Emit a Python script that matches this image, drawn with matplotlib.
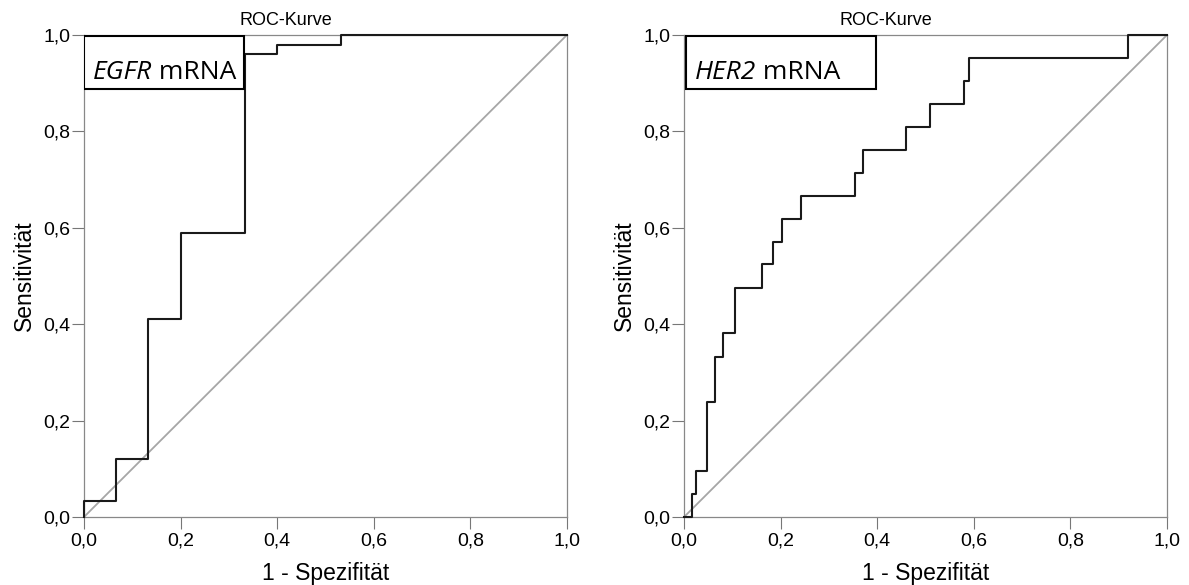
import matplotlib.pyplot as plt

# ROC corner points (steps-post)
egfr_fpr = [0.0, 0.0, 0.067, 0.133, 0.2, 0.333, 0.4, 0.533, 1.0]
egfr_tpr = [0.0, 0.033, 0.12, 0.41, 0.59, 0.96, 0.98, 1.0, 1.0]

her2_fpr = [0.0, 0.016, 0.024, 0.048, 0.064, 0.081, 0.105, 0.161, 0.185, 0.202,
            0.242, 0.355, 0.371, 0.46, 0.509, 0.58, 0.589, 0.92, 1.0]
her2_tpr = [0.0, 0.048, 0.095, 0.238, 0.333, 0.381, 0.476, 0.524, 0.571, 0.619,
            0.667, 0.714, 0.762, 0.810, 0.857, 0.905, 0.952, 1.0, 1.0]

ticks = [0.0, 0.2, 0.4, 0.6, 0.8, 1.0]
tick_labels = ['0,0', '0,2', '0,4', '0,6', '0,8', '1,0']

plt.rcParams['font.family'] = ['Liberation Sans', 'DejaVu Sans']

fig = plt.figure(figsize=(11.89, 5.85), dpi=100)
ax1 = fig.add_axes([0.0706, 0.1162, 0.4062, 0.824])
ax2 = fig.add_axes([0.5753, 0.1162, 0.4062, 0.824])

# axes, data, gene name, box left/width, text left (axes coords)
panels = [(ax1, egfr_fpr, egfr_tpr, 'EGFR', 0.0, 0.331, 0.0186),
          (ax2, her2_fpr, her2_tpr, 'HER2', 0.004, 0.393, 0.0228)]

for ax, fpr, tpr, gene, box_x, box_w, txt_x in panels:
    ax.plot([0, 1], [0, 1], color='#a6a6a6', linewidth=1.3)
    ax.plot(fpr, tpr, color='#1a1a1a', linewidth=1.5, drawstyle='steps-post',
            clip_on=False, zorder=4)
    ax.set_xlim(0, 1)
    ax.set_ylim(0, 1)
    ax.set_xticks(ticks)
    ax.set_xticklabels(tick_labels)
    ax.set_yticks(ticks)
    ax.set_yticklabels(tick_labels)
    ax.tick_params(axis='both', direction='out', length=8.5, width=0.8,
                   color='#777777', labelsize=14)
    ax.tick_params(axis='x', pad=3)
    ax.tick_params(axis='y', pad=1.5)
    for s in ax.spines.values():
        s.set_color('#888888')
        s.set_linewidth(0.9)
    ax.set_title('ROC-Kurve', fontsize=13, pad=7, x=0.418)
    ax.set_xlabel('1 - Spezifität', fontsize=16.5, labelpad=9)
    ax.set_ylabel('Sensitivität', fontsize=16.5, labelpad=5)

    # label box in the top-left corner
    rect = plt.Rectangle((box_x, 0.888), box_w, 0.109, transform=ax.transAxes,
                         facecolor='white', edgecolor='black', linewidth=1.5, zorder=5)
    ax.add_patch(rect)
    t1 = ax.text(txt_x, 0.9085, gene, transform=ax.transAxes, fontsize=19,
                 family='Open Sans', style='italic', ha='left', va='baseline', zorder=6)
    ax.annotate(' mRNA', xy=(1, 0), xycoords=t1, fontsize=19, family='Open Sans',
                ha='left', va='bottom', zorder=6)

plt.savefig('out.png', dpi=100)
